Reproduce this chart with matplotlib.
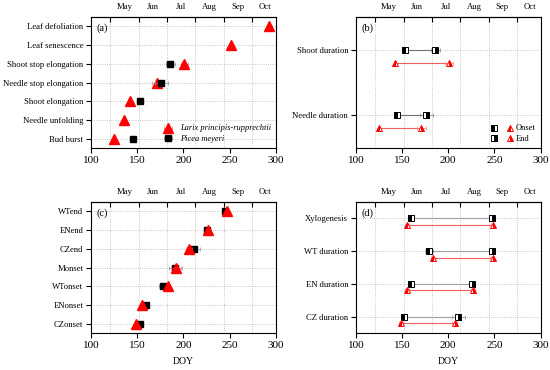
import numpy as np
import matplotlib.pyplot as plt
from matplotlib.lines import Line2D
from matplotlib.legend_handler import HandlerTuple

plt.rcParams['font.family'] = ['Liberation Serif', 'DejaVu Serif']
plt.rcParams['font.size'] = 6.2
plt.rcParams['axes.linewidth'] = 0.8

# month boundaries / labels on the top axis (DOY)
month_start = [121, 152, 182, 213, 244, 274]
month_mid = [136, 166.5, 197.5, 228.5, 258.5, 288.5]
month_names = ['May', 'Jun', 'Jul', 'Aug', 'Sep', 'Oct']

# (a) shoot / needle phenology, top to bottom
events_a = ['Leaf defoliation', 'Leaf senescence', 'Shoot stop elongation',
            'Needle stop elongation', 'Shoot elongation', 'Needle unfolding', 'Bud burst']
larix_a = [293, 252, 201, 171, 142, 136, 125]
larix_a_sd = [0, 0, 4, 5, 1, 1, 1]
picea_a = [np.nan, np.nan, 186, 176, 153, np.nan, 145]
picea_a_sd = [np.nan, np.nan, 5, 7, 1, np.nan, 1]

# (b) durations, top to bottom
periods_b = ['Shoot duration', 'Needle duration']
picea_b_on = [153, 145]
picea_b_end = [186, 176]
picea_b_on_sd = [2, 2]
picea_b_end_sd = [5, 7]
larix_b_on = [142, 125]
larix_b_end = [201, 171]
larix_b_on_sd = [1, 1]
larix_b_end_sd = [4, 5]

# (c) xylogenesis phases, top to bottom
events_c = ['WTend', 'ENend', 'CZend', 'Monset', 'WTonset', 'ENonset', 'CZonset']
larix_c = [247, 227, 206, 192, 183, 155, 149]
larix_c_sd = [2, 2, 3, 5, 2, 2, 2]
picea_c = [245, 226, 211, 191, 178, 160, 153]
picea_c_sd = [3, 2, 7, 7, 4, 2, 2]

# (d) xylogenesis durations, top to bottom
periods_d = ['Xylogenesis', 'WT duration', 'EN duration', 'CZ duration']
picea_d_on = [160, 179, 160, 152]
picea_d_end = [247, 247, 226, 211]
picea_d_on_sd = [2, 4, 2, 2]
picea_d_end_sd = [3, 3, 2, 7]
larix_d_on = [155, 183, 155, 149]
larix_d_end = [248, 248, 227, 207]
larix_d_on_sd = [2, 2, 2, 2]
larix_d_end_sd = [2, 2, 2, 3]

RED = '#ff0000'
GRID = '#b4b4b4'


def style_axis(ax, labels, tag):
    n = len(labels)
    ax.set_xlim(100, 300)
    ax.set_ylim(0.5, n + 0.5)
    ax.set_yticks(range(n, 0, -1), labels)
    ax.set_xticks([100, 150, 200, 250, 300])
    ax.tick_params(axis='x', labelsize=8, direction='out', length=3.5, width=0.8, pad=2)
    ax.tick_params(axis='y', labelsize=6.2, direction='out', length=3.5, width=0.8, pad=2)
    for m in month_start:
        ax.axvline(m, color=GRID, ls=':', lw=0.6, zorder=0)
    for y in range(1, n + 1):
        ax.axhline(y, color=GRID, ls=':', lw=0.6, zorder=0)
    sec = ax.secondary_xaxis('top')
    sec.set_xticks(month_start, labels=[''] * len(month_start))
    sec.set_xticks(month_mid, labels=month_names, minor=True)
    sec.tick_params(which='major', direction='in', length=3.5, width=0.8)
    sec.tick_params(which='minor', length=0, labelsize=6.2, pad=4)
    ax.text(0.03, 0.95, tag, transform=ax.transAxes, va='top', ha='left', fontsize=7.5)


def duration_rows(ax, on, end, on_sd, end_sd, ys, color, ecolor, lcolor, marker, ms):
    for i, y in enumerate(ys):
        ax.plot([on[i], end[i]], [y, y], color=lcolor, lw=0.8, zorder=2)
        ax.errorbar([on[i], end[i]], [y, y], xerr=[on_sd[i], end_sd[i]], fmt='none',
                    ecolor=ecolor, elinewidth=0.5, capsize=1.5, capthick=0.5, zorder=2)
        ax.plot(on[i], y, marker=marker, ms=ms, color=color, fillstyle='left',
                markerfacecoloralt='white', mec=color, mew=0.7, ls='none', zorder=3)
        ax.plot(end[i], y, marker=marker, ms=ms, color=color, fillstyle='right',
                markerfacecoloralt='white', mec=color, mew=0.7, ls='none', zorder=3)


fig = plt.figure(figsize=(5.5, 3.7), dpi=100)
ax_a = fig.add_axes([0.1655, 0.60, 0.336, 0.354])
ax_b = fig.add_axes([0.647, 0.60, 0.336, 0.354])
ax_c = fig.add_axes([0.1655, 0.10, 0.336, 0.354])
ax_d = fig.add_axes([0.647, 0.10, 0.336, 0.354])

# (a)
ya = np.arange(len(events_a), 0, -1)
ax_a.errorbar(larix_a, ya, xerr=larix_a_sd, fmt='^', color=RED, ms=6.5, mec=RED,
              ecolor='#f08080', elinewidth=0.5, capsize=1.5, capthick=0.5,
              label='Larix principis-rupprechtii', zorder=3)
ax_a.errorbar(picea_a, ya, xerr=picea_a_sd, fmt='s', color='black', ms=5,
              ecolor='#909090', elinewidth=0.5, capsize=1.5, capthick=0.5,
              label='Picea meyeri', zorder=4)
style_axis(ax_a, events_a, '(a)')
ax_a.legend(loc='lower right', frameon=False, handletextpad=0.8, handlelength=1.2,
            borderaxespad=0.2, labelspacing=0.3, prop={'style': 'italic', 'size': 6})

# (b)
yb = np.arange(len(periods_b), 0, -1)
duration_rows(ax_b, picea_b_on, picea_b_end, picea_b_on_sd, picea_b_end_sd, yb,
              'black', '#808080', '#707070', 's', 4)
duration_rows(ax_b, larix_b_on, larix_b_end, larix_b_on_sd, larix_b_end_sd, yb - 0.2,
              RED, '#f08080', '#f06060', '^', 5)
style_axis(ax_b, periods_b, '(b)')
h_on = (Line2D([], [], marker='s', ms=4, color='black', fillstyle='left',
               markerfacecoloralt='white', ls='none', mew=0.7),
        Line2D([], [], marker='^', ms=5, color=RED, fillstyle='left',
               markerfacecoloralt='white', ls='none', mew=0.7))
h_end = (Line2D([], [], marker='s', ms=4, color='black', fillstyle='right',
                markerfacecoloralt='white', ls='none', mew=0.7),
         Line2D([], [], marker='^', ms=5, color=RED, fillstyle='right',
                markerfacecoloralt='white', ls='none', mew=0.7))
ax_b.legend([h_on, h_end], ['Onset', 'End'], loc='lower right', frameon=False,
            fontsize=6, handler_map={tuple: HandlerTuple(ndivide=None, pad=1.2)},
            handlelength=2.6, handletextpad=0.4, borderaxespad=0.2, labelspacing=0.3)

# (c)
yc = np.arange(len(events_c), 0, -1)
ax_c.errorbar(picea_c, yc, xerr=picea_c_sd, fmt='s', color='black', ms=5,
              ecolor='#909090', elinewidth=0.5, capsize=1.5, capthick=0.5, zorder=3)
ax_c.errorbar(larix_c, yc, xerr=larix_c_sd, fmt='^', color=RED, ms=6.5, mec=RED,
              ecolor='#f08080', elinewidth=0.5, capsize=1.5, capthick=0.5, zorder=4)
style_axis(ax_c, events_c, '(c)')
ax_c.set_xlabel('DOY', fontsize=7, labelpad=5)

# (d)
yd = np.arange(len(periods_d), 0, -1)
duration_rows(ax_d, picea_d_on, picea_d_end, picea_d_on_sd, picea_d_end_sd, yd,
              'black', '#909090', '#a0a0a0', 's', 4)
duration_rows(ax_d, larix_d_on, larix_d_end, larix_d_on_sd, larix_d_end_sd, yd - 0.2,
              RED, '#f08080', '#f06060', '^', 5)
style_axis(ax_d, periods_d, '(d)')
ax_d.set_xlabel('DOY', fontsize=7, labelpad=5)

fig.savefig('out.png', dpi=100)
